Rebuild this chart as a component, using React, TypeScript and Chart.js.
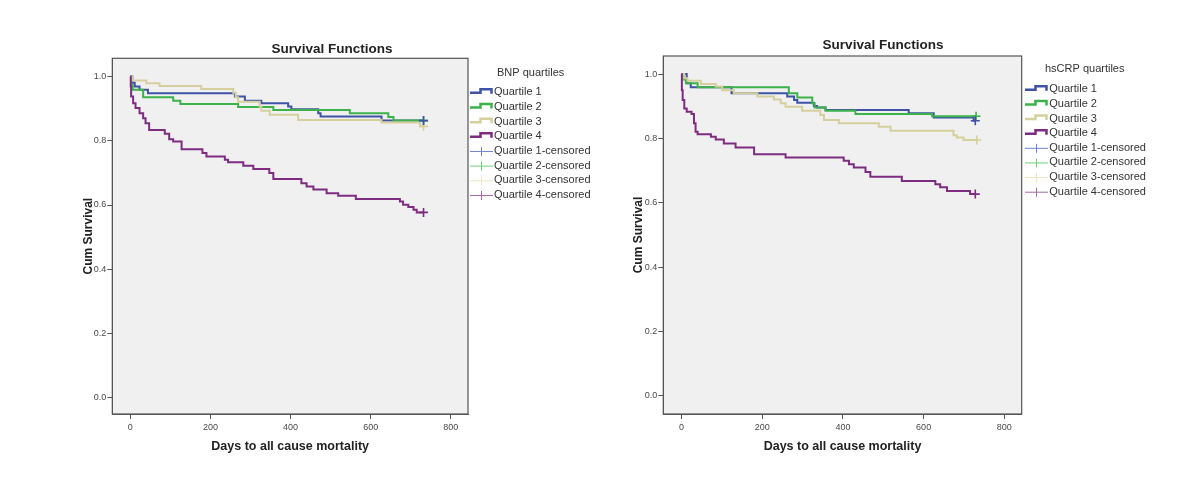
import React, { useEffect, useRef } from "react";
import { Chart, registerables } from "chart.js";

Chart.register(...registerables);

// ---------- data ----------
const xTicks = [0, 200, 400, 600, 800];
const yTicks = [0, 0.2, 0.4, 0.6, 0.8, 1.0];

const chartTitle = "Survival Functions";
const xAxisTitle = "Days to all cause mortality";
const yAxisTitle = "Cum Survival";
const bnpLegendTitle = "BNP quartiles";
const crpLegendTitle = "hsCRP quartiles";

const seriesNames = ["Quartile 1", "Quartile 2", "Quartile 3", "Quartile 4"];
const censoredNames = [
  "Quartile 1-censored",
  "Quartile 2-censored",
  "Quartile 3-censored",
  "Quartile 4-censored",
];

// BNP quartiles (left panel)
const bnpQ1Days = [0, 5, 11, 23, 44, 261, 286, 327, 394, 402, 469, 475, 627, 732];
const bnpQ1Surv = [1, 0.981, 0.969, 0.959, 0.948, 0.938, 0.925, 0.917, 0.907, 0.898, 0.886, 0.876, 0.863, 0.863];

const bnpQ2Days = [0, 2, 6, 32, 107, 125, 269, 357, 548, 644, 657, 732];
const bnpQ2Surv = [1, 0.974, 0.959, 0.936, 0.925, 0.915, 0.905, 0.896, 0.886, 0.874, 0.863, 0.863];

const bnpQ3Days = [0, 5, 40, 73, 177, 257, 263, 269, 323, 327, 348, 419, 627, 723, 732];
const bnpQ3Surv = [1, 0.988, 0.979, 0.971, 0.961, 0.95, 0.936, 0.922, 0.907, 0.894, 0.881, 0.865, 0.857, 0.845, 0.845];

const bnpQ4Days = [0, 1, 2, 7, 13, 23, 32, 38, 47, 86, 97, 107, 128, 180, 190, 236, 244, 282, 307, 347, 357, 427, 440, 457, 490, 519, 563, 673, 681, 694, 707, 715, 732];
const bnpQ4Surv = [1, 0.969, 0.938, 0.917, 0.902, 0.886, 0.87, 0.855, 0.834, 0.822, 0.805, 0.798, 0.774, 0.762, 0.751, 0.741, 0.733, 0.722, 0.712, 0.7, 0.681, 0.668, 0.658, 0.648, 0.637, 0.629, 0.619, 0.611, 0.601, 0.594, 0.585, 0.577, 0.577];

const bnpCensorDays = [732, 732, 732, 732];
const bnpCensorSurv = [0.863, 0.863, 0.845, 0.577];

// hsCRP quartiles (right panel)
const crpQ1Days = [0, 13, 23, 124, 262, 279, 287, 328, 336, 357, 563, 625, 724, 728];
const crpQ1Surv = [1, 0.971, 0.959, 0.94, 0.93, 0.919, 0.911, 0.901, 0.896, 0.888, 0.878, 0.865, 0.855, 0.855];

const crpQ2Days = [0, 5, 11, 40, 266, 287, 324, 330, 357, 431, 621, 728];
const crpQ2Surv = [1, 0.983, 0.971, 0.959, 0.94, 0.927, 0.909, 0.896, 0.886, 0.876, 0.869, 0.869];

const crpQ3Days = [0, 7, 15, 48, 85, 101, 130, 188, 229, 246, 258, 299, 344, 353, 390, 489, 518, 674, 682, 699, 732];
const crpQ3Surv = [1, 0.987, 0.979, 0.969, 0.961, 0.95, 0.94, 0.93, 0.921, 0.909, 0.898, 0.886, 0.873, 0.857, 0.847, 0.836, 0.824, 0.81, 0.803, 0.795, 0.795];

const crpQ4Days = [0, 1, 3, 7, 13, 25, 31, 35, 40, 73, 85, 105, 134, 180, 258, 402, 415, 427, 456, 468, 546, 629, 641, 658, 715, 728];
const crpQ4Surv = [1, 0.95, 0.919, 0.893, 0.883, 0.876, 0.847, 0.821, 0.813, 0.805, 0.797, 0.784, 0.772, 0.751, 0.741, 0.731, 0.72, 0.71, 0.696, 0.681, 0.668, 0.658, 0.648, 0.637, 0.627, 0.627];

const crpCensorDays = [728, 730, 732, 728];
const crpCensorSurv = [0.855, 0.869, 0.795, 0.627];

// ---------- styles ----------
const FONT = '"Liberation Sans", Arial, Helvetica, sans-serif';
const lineColors = ["#3f53a6", "#3cb34a", "#d5cf9d", "#7d2c80"];
const censorLegendColors = ["#7283cf", "#6fd07d", "#ede6c2", "#a56aa8"];

Chart.defaults.font.family = FONT;

const panelPlugin = {
  id: "panelFrame",
  beforeDraw(chart: any) {
    const { ctx, chartArea: a } = chart;
    ctx.save();
    ctx.fillStyle = "#f0f0f0";
    ctx.fillRect(a.left, a.top, a.right - a.left, a.bottom - a.top);
    ctx.restore();
  },
  afterDraw(chart: any) {
    const { ctx, chartArea: a } = chart;
    ctx.save();
    ctx.strokeStyle = "#555";
    ctx.lineWidth = 1.2;
    ctx.strokeRect(a.left, a.top, a.right - a.left, a.bottom - a.top);
    ctx.restore();
  },
};

const kmLegendPlugin = {
  id: "kmLegend",
  afterDraw(chart: any, _args: any, opts: any) {
    if (!opts || !opts.title) return;
    const ctx = chart.ctx;
    ctx.save();
    ctx.font = `11px ${FONT}`;
    ctx.textBaseline = "middle";
    ctx.textAlign = "left";
    ctx.fillStyle = "#333";
    ctx.fillText(opts.title, opts.titleX, opts.titleY);
    const labels = [...seriesNames, ...censoredNames];
    labels.forEach((lab: string, i: number) => {
      const y = opts.y0 + i * opts.step;
      const x = opts.x;
      if (i < 4) {
        ctx.strokeStyle = lineColors[i];
        ctx.lineWidth = 2.5;
        ctx.beginPath();
        ctx.moveTo(x, y + 0.5);
        ctx.lineTo(x + 10.5, y + 0.5);
        ctx.lineTo(x + 10.5, y - 3);
        ctx.lineTo(x + 21.5, y - 3);
        ctx.lineTo(x + 21.5, y + 1.5);
        ctx.stroke();
      } else {
        ctx.strokeStyle = censorLegendColors[i - 4];
        ctx.lineWidth = 1;
        ctx.beginPath();
        ctx.moveTo(x, y + 0.5);
        ctx.lineTo(x + 23, y + 0.5);
        ctx.moveTo(x + 11.5, y - 4);
        ctx.lineTo(x + 11.5, y + 5);
        ctx.stroke();
      }
      ctx.fillStyle = "#333";
      ctx.fillText(lab, opts.textX, y);
    });
    ctx.restore();
  },
};

type Panel = {
  days: number[][];
  surv: number[][];
  censorDays: number[];
  censorSurv: number[];
  yMin: number;
  yMax: number;
  yAxisWidth: number;
  rightSpace: number;
  titlePadTop: number;
  titlePadBottom: number;
  yTitlePad: number;
  legend: any;
};

function buildConfig(p: Panel): any {
  const lineSets = p.days.map((d, i) => ({
    type: "line",
    label: seriesNames[i],
    data: d.map((x, j) => ({ x, y: p.surv[i][j] })),
    stepped: "before",
    borderColor: lineColors[i],
    backgroundColor: lineColors[i],
    borderWidth: 2,
    pointRadius: 0,
    fill: false,
    order: 4 - i,
  }));
  const censorSets = p.censorDays.map((x, i) => ({
    type: "scatter",
    label: censoredNames[i],
    data: [{ x, y: p.censorSurv[i] }],
    pointStyle: "cross",
    pointRadius: 4.5,
    borderWidth: 1.6,
    borderColor: lineColors[i],
    backgroundColor: lineColors[i],
    order: 0,
  }));
  return {
    type: "line",
    data: { datasets: [...lineSets, ...censorSets] },
    plugins: [panelPlugin, kmLegendPlugin],
    options: {
      responsive: false,
      animation: false,
      events: [],
      layout: { padding: 0 },
      plugins: {
        legend: { display: false },
        tooltip: { enabled: false },
        title: {
          display: true,
          text: chartTitle,
          color: "#222",
          font: { size: 13.5, weight: "bold", family: FONT },
          padding: { top: p.titlePadTop, bottom: p.titlePadBottom },
        },
        kmLegend: p.legend,
      },
      scales: {
        x: {
          type: "linear",
          min: -45,
          max: 843,
          afterBuildTicks: (axis: any) => {
            axis.ticks = xTicks.map((v) => ({ value: v }));
          },
          afterFit: (scale: any) => {
            scale.height = 64;
          },
          grid: { drawOnChartArea: false, drawTicks: true, tickLength: 5, color: "#555", lineWidth: 1 },
          border: { display: true, color: "#555" },
          ticks: { color: "#4a4a4a", font: { size: 9, family: FONT }, padding: 3, maxRotation: 0 },
          title: {
            display: true,
            text: xAxisTitle,
            color: "#222",
            font: { size: 12.5, weight: "bold", family: FONT },
            padding: { top: 0, bottom: 23.8 },
          },
        },
        y: {
          type: "linear",
          position: "left",
          min: p.yMin,
          max: p.yMax,
          afterBuildTicks: (axis: any) => {
            axis.ticks = yTicks.map((v) => ({ value: v }));
          },
          afterFit: (scale: any) => {
            scale.width = p.yAxisWidth;
          },
          grid: { drawOnChartArea: false, drawTicks: true, tickLength: 5, color: "#555", lineWidth: 1 },
          border: { display: true, color: "#555" },
          ticks: {
            color: "#4a4a4a",
            font: { size: 9, family: FONT },
            padding: 1,
            callback: (v: any) => Number(v).toFixed(1),
          },
          title: {
            display: true,
            text: yAxisTitle,
            color: "#222",
            font: { size: 12, weight: "bold", family: FONT },
            padding: { top: p.yTitlePad, bottom: 0 },
          },
        },
        legendSpace: {
          type: "linear",
          position: "right",
          min: 0,
          max: 1,
          afterFit: (scale: any) => {
            scale.width = p.rightSpace;
          },
          grid: { display: false, drawTicks: false },
          border: { display: false },
          ticks: { display: false },
          title: { display: false },
        },
      },
    },
  };
}

export default function App() {
  const leftRef = useRef<HTMLCanvasElement>(null);
  const rightRef = useRef<HTMLCanvasElement>(null);

  useEffect(() => {
    const left = new Chart(
      leftRef.current as HTMLCanvasElement,
      buildConfig({
        days: [bnpQ1Days, bnpQ2Days, bnpQ3Days, bnpQ4Days],
        surv: [bnpQ1Surv, bnpQ2Surv, bnpQ3Surv, bnpQ4Surv],
        censorDays: bnpCensorDays,
        censorSurv: bnpCensorSurv,
        yMin: -0.051,
        yMax: 1.057,
        yAxisWidth: 48.3,
        rightSpace: 132,
        titlePadTop: 40.9,
        titlePadBottom: 1.2,
        yTitlePad: 17.5,
        legend: { title: bnpLegendTitle, titleX: 433, titleY: 72.7, x: 406, textX: 430, y0: 92.3, step: 14.67 },
      })
    );
    const right = new Chart(
      rightRef.current as HTMLCanvasElement,
      buildConfig({
        days: [crpQ1Days, crpQ2Days, crpQ3Days, crpQ4Days],
        surv: [crpQ1Surv, crpQ2Surv, crpQ3Surv, crpQ4Surv],
        censorDays: crpCensorDays,
        censorSurv: crpCensorSurv,
        yMin: -0.056,
        yMax: 1.056,
        yAxisWidth: 53.3,
        rightSpace: 134.3,
        titlePadTop: 36.9,
        titlePadBottom: 2.9,
        yTitlePad: 21.5,
        legend: { title: crpLegendTitle, titleX: 435, titleY: 69.3, x: 415, textX: 439.3, y0: 89.3, step: 14.63 },
      })
    );
    return () => {
      left.destroy();
      right.destroy();
    };
  }, []);

  return (
    <div style={{ position: "absolute", left: 0, top: 0, width: 1200, height: 478, background: "#fff" }}>
      <canvas ref={leftRef} width={536} height={478} style={{ position: "absolute", left: 64, top: 0 }} />
      <canvas ref={rightRef} width={546} height={478} style={{ position: "absolute", left: 610, top: 0 }} />
    </div>
  );
}
